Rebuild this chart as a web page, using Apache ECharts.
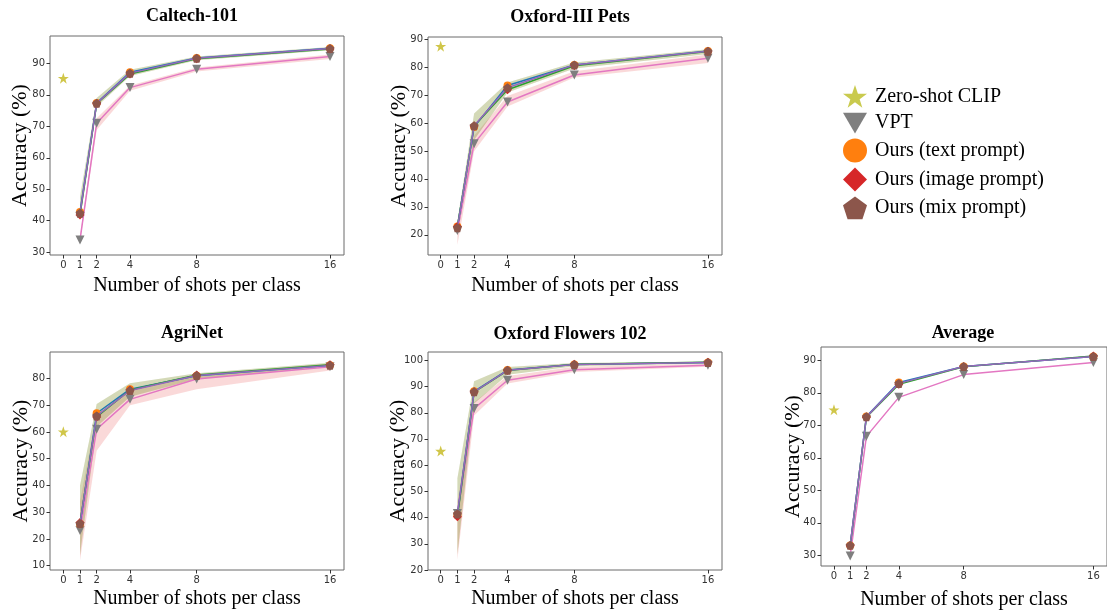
<!DOCTYPE html>
<html>
<head>
<meta charset="utf-8">
<script src="https://cdn.jsdelivr.net/npm/echarts@6/dist/echarts.min.js"></script>
<style>
html,body{margin:0;padding:0;background:#fff;}
#chart{width:1107px;height:611px;}
</style>
</head>
<body>
<div id="chart"></div>
<script>
// ---------------- data ----------------
const xShots = [1, 2, 4, 8, 16];
const xTickValues = [0, 1, 2, 4, 8, 16];
const panelTitles = ['Caltech-101', 'Oxford-III Pets', 'AgriNet', 'Oxford Flowers 102', 'Average'];
const seriesNames = ['Zero-shot CLIP', 'VPT', 'Ours (text prompt)', 'Ours (image prompt)', 'Ours (mix prompt)'];
const xAxisTitle = 'Number of shots per class';
const yAxisTitle = 'Accuracy (%)';

const yTicksCaltech = [30, 40, 50, 60, 70, 80, 90];
const yTicksPets = [20, 30, 40, 50, 60, 70, 80, 90];
const yTicksAgri = [10, 20, 30, 40, 50, 60, 70, 80];
const yTicksFlowers = [20, 30, 40, 50, 60, 70, 80, 90, 100];
const yTicksAverage = [30, 40, 50, 60, 70, 80, 90];

// Caltech-101
const zeroCaltech = 85.3;
const vptCaltech = [33.9, 71.0, 82.3, 88.1, 92.2];
const textCaltech = [42.8, 77.4, 87.2, 91.7, 94.8];
const imageCaltech = [41.8, 77.2, 86.6, 91.5, 94.6];
const mixCaltech = [42.4, 77.3, 86.9, 91.6, 94.7];
const vptLoCaltech = [33.2, 68.8, 81.3, 87.4, 91.4];
const vptHiCaltech = [35.0, 72.6, 83.0, 88.7, 92.8];
const oursLoCaltech = [40.5, 76.2, 86.0, 91.0, 94.2];
const oursHiCaltech = [47.5, 79.0, 88.0, 92.2, 95.2];

// Oxford-III Pets
const zeroPets = 87.6;
const vptPets = [21.6, 52.7, 67.6, 77.3, 83.3];
const textPets = [23.0, 58.7, 73.5, 80.9, 85.9];
const imagePets = [23.0, 59.0, 72.0, 80.6, 85.7];
const mixPets = [22.6, 59.1, 72.7, 80.9, 85.8];
const vptLoPets = [16.5, 50.0, 66.0, 76.4, 81.6];
const vptHiPets = [23.5, 55.5, 69.8, 78.6, 84.6];
const oursLoPets = [20.0, 54.0, 71.0, 79.6, 84.8];
const oursHiPets = [25.0, 63.5, 74.6, 81.8, 86.5];

// AgriNet
const zeroAgri = 60.1;
const vptAgri = [23.2, 61.0, 72.2, 79.8, 84.4];
const textAgri = [25.5, 67.0, 76.0, 81.0, 84.9];
const imageAgri = [26.2, 65.6, 75.7, 81.3, 85.1];
const mixAgri = [25.8, 66.0, 75.5, 81.1, 84.9];
const vptLoAgri = [12.0, 53.0, 70.0, 76.0, 83.0];
const vptHiAgri = [34.0, 66.5, 75.5, 81.0, 85.6];
const oursLoAgri = [14.0, 62.0, 73.2, 79.8, 84.4];
const oursHiAgri = [40.0, 70.5, 78.2, 82.0, 85.9];

// Oxford Flowers 102
const zeroFlowers = 65.4;
const vptFlowers = [41.6, 81.6, 92.4, 96.4, 98.1];
const textFlowers = [41.0, 88.2, 96.3, 98.4, 99.2];
const imageFlowers = [40.3, 87.9, 96.1, 98.5, 99.3];
const mixFlowers = [41.4, 88.0, 96.2, 98.4, 99.2];
const vptLoFlowers = [24.0, 79.0, 91.2, 95.6, 97.6];
const vptHiFlowers = [46.0, 84.0, 94.0, 97.6, 98.7];
const oursLoFlowers = [26.0, 83.5, 94.5, 97.8, 98.8];
const oursHiFlowers = [55.0, 92.0, 97.5, 99.0, 99.6];

// Average
const zeroAverage = 74.8;
const vptAverage = [29.8, 66.6, 78.6, 85.6, 89.3];
const textAverage = [33.0, 72.7, 83.2, 88.1, 91.2];
const imageAverage = [32.9, 72.5, 82.6, 88.0, 91.3];
const mixAverage = [33.1, 72.6, 82.9, 88.1, 91.2];

// ---------------- assembly ----------------
const panels = [
  {zero: zeroCaltech, vpt: vptCaltech, text: textCaltech, image: imageCaltech, mix: mixCaltech, vptLo: vptLoCaltech, vptHi: vptHiCaltech, oursLo: oursLoCaltech, oursHi: oursHiCaltech, yTicks: yTicksCaltech},
  {zero: zeroPets, vpt: vptPets, text: textPets, image: imagePets, mix: mixPets, vptLo: vptLoPets, vptHi: vptHiPets, oursLo: oursLoPets, oursHi: oursHiPets, yTicks: yTicksPets},
  {zero: zeroAgri, vpt: vptAgri, text: textAgri, image: imageAgri, mix: mixAgri, vptLo: vptLoAgri, vptHi: vptHiAgri, oursLo: oursLoAgri, oursHi: oursHiAgri, yTicks: yTicksAgri},
  {zero: zeroFlowers, vpt: vptFlowers, text: textFlowers, image: imageFlowers, mix: mixFlowers, vptLo: vptLoFlowers, vptHi: vptHiFlowers, oursLo: oursLoFlowers, oursHi: oursHiFlowers, yTicks: yTicksFlowers},
  {zero: zeroAverage, vpt: vptAverage, text: textAverage, image: imageAverage, mix: mixAverage, yTicks: yTicksAverage}
];

const layouts = [
  {left: 50, top: 36, width: 294, height: 219, xMin: -0.8, xMax: 16.84, yMin: 29.1, yMax: 98.7, tx: 192, ty: 7, xGap: 21, yGap: 19},
  {left: 428, top: 37, width: 294, height: 218, xMin: -0.76, xMax: 16.84, yMin: 12.8, yMax: 90.9, tx: 570, ty: 8, xGap: 21, yGap: 18},
  {left: 50, top: 352, width: 294, height: 218, xMin: -0.8, xMax: 16.84, yMin: 8.4, yMax: 89.9, tx: 192, ty: 324, xGap: 19, yGap: 18},
  {left: 428, top: 352, width: 294, height: 218, xMin: -0.76, xMax: 16.84, yMin: 20, yMax: 103.2, tx: 570, ty: 325, xGap: 19, yGap: 19},
  {left: 821, top: 347, width: 294, height: 219, xMin: -0.8, xMax: 16.84, yMin: 26.7, yMax: 94.1, tx: 963, ty: 324, xGap: 24, yGap: 17}
];

const STAR = 'path://M50,0L61.8,35.1L98.1,35.1L68.7,56.7L79.4,91L50,69.6L20.6,91L31.3,56.7L1.9,35.1L38.2,35.1Z';
const TRI_DOWN = 'path://M0,0L100,0L50,86.6Z';
const PENT = 'path://M50,0L97.6,34.5L79.4,90.5L20.6,90.5L2.4,34.5Z';

const C = {
  star: '#c4b81c', vptMarker: '#7f7f7f', vptLine: '#e377c2',
  text: '#ff7f0e', image: '#d62728', mix: '#8c564b',
  textLine: '#1f77b4', imageLine: '#2ca02c', mixLine: '#9467bd'
};
const SERIF = '"Liberation Serif", "Times New Roman", serif';
const SANS = '"DejaVu Sans", sans-serif';

const grids = [], xAxes = [], yAxes = [], titles = [], series = [];

function pts(arr) { return xShots.map((x, i) => [x, arr[i]]); }

function bandSeries(gi, lo, hi, color, opacity) {
  return {
    type: 'custom', xAxisIndex: gi, yAxisIndex: gi, silent: true, z: 1,
    data: xShots.map((x, i) => [x, lo[i], hi[i]]),
    encode: {x: 0, y: [1, 2]},
    renderItem: function (params, api) {
      if (params.dataIndex !== 0) return null;
      const upper = xShots.map((x, i) => api.coord([x, hi[i]]));
      const lower = xShots.map((x, i) => api.coord([x, lo[i]])).reverse();
      return {type: 'polygon', shape: {points: upper.concat(lower)},
        style: {fill: color, opacity: opacity}};
    }
  };
}

function lineSeries(gi, name, arr, lineColor, markerColor, symbol, size, z) {
  return {type: 'line', name: name, xAxisIndex: gi, yAxisIndex: gi, data: pts(arr),
    symbol: symbol, symbolSize: size, showSymbol: true,
    lineStyle: {color: lineColor, width: 1.5},
    itemStyle: {color: markerColor, borderWidth: 0}, z: z};
}

panels.forEach((p, gi) => {
  const L = layouts[gi];
  grids.push({left: L.left, top: L.top, width: L.width, height: L.height, show: true,
    borderColor: '#6b6b6b', borderWidth: 1, backgroundColor: 'transparent'});
  xAxes.push({type: 'value', gridIndex: gi, min: L.xMin, max: L.xMax,
    name: xAxisTitle, nameLocation: 'middle', nameGap: L.xGap, nameMoveOverlap: false,
    nameTextStyle: {fontFamily: SERIF, fontSize: 20, color: '#000'},
    axisLine: {show: false, onZero: false}, splitLine: {show: false},
    axisTick: {show: true, customValues: xTickValues, length: 3.5, lineStyle: {color: '#333', width: 1}},
    axisLabel: {show: true, customValues: xTickValues, fontFamily: SANS, fontSize: 10, color: '#333', margin: 5}});
  yAxes.push({type: 'value', gridIndex: gi, min: L.yMin, max: L.yMax,
    name: yAxisTitle, nameLocation: 'middle', nameGap: L.yGap, nameMoveOverlap: false,
    nameTextStyle: {fontFamily: SERIF, fontSize: 22, color: '#000'},
    axisLine: {show: false, onZero: false}, splitLine: {show: false},
    axisTick: {show: true, customValues: p.yTicks, length: 3.5, lineStyle: {color: '#333', width: 1}},
    axisLabel: {show: true, customValues: p.yTicks, fontFamily: SANS, fontSize: 10, color: '#333', margin: 5}});
  titles.push({text: panelTitles[gi], left: L.tx, top: L.ty, textAlign: 'center', padding: 0,
    textStyle: {fontFamily: SERIF, fontSize: 18, fontWeight: 'bold', color: '#000'}});

  if (p.vptLo) {
    series.push(bandSeries(gi, p.vptLo, p.vptHi, '#f08080', 0.3));
    series.push(bandSeries(gi, p.oursLo, p.oursHi, '#3a8a2a', 0.25));
    series.push(bandSeries(gi, p.oursLo, p.oursHi, '#ff9a30', 0.12));
  }
  series.push(lineSeries(gi, seriesNames[1], p.vpt, C.vptLine, C.vptMarker, TRI_DOWN, 9, 5));
  series.push(lineSeries(gi, seriesNames[2], p.text, C.textLine, C.text, 'circle', 8, 6));
  series.push(lineSeries(gi, seriesNames[3], p.image, C.imageLine, C.image, 'diamond', 9, 7));
  series.push(lineSeries(gi, seriesNames[4], p.mix, C.mixLine, C.mix, PENT, 9, 8));
  series.push({type: 'scatter', name: seriesNames[0], xAxisIndex: gi, yAxisIndex: gi,
    data: [[0, p.zero]], symbol: STAR, symbolSize: 11, itemStyle: {color: C.star}, z: 9});
});

const option = {
  animation: false,
  backgroundColor: '#fff',
  title: titles,
  grid: grids,
  xAxis: xAxes,
  yAxis: yAxes,
  legend: {
    orient: 'vertical', left: 838, top: 80, itemWidth: 24, itemHeight: 24, itemGap: 5,
    selectedMode: false,
    textStyle: {fontFamily: SERIF, fontSize: 20, color: '#000', padding: [0, 0, 0, 3]},
    data: [
      {name: seriesNames[0], icon: STAR, itemStyle: {color: '#bcbd22', borderWidth: 0}},
      {name: seriesNames[1], icon: TRI_DOWN, itemStyle: {color: C.vptMarker, borderWidth: 0}},
      {name: seriesNames[2], icon: 'circle', itemStyle: {color: C.text, borderWidth: 0}},
      {name: seriesNames[3], icon: 'diamond', itemStyle: {color: C.image, borderWidth: 0}},
      {name: seriesNames[4], icon: PENT, itemStyle: {color: C.mix, borderWidth: 0}}
    ]
  },
  series: series
};

const chart = echarts.init(document.getElementById('chart'), null, {renderer: 'canvas'});
chart.setOption(option);
</script>
</body>
</html>
